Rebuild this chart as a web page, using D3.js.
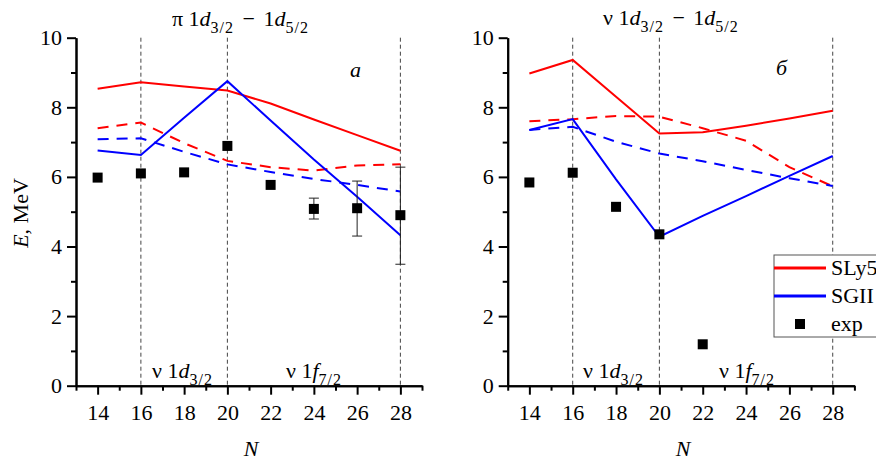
<!DOCTYPE html>
<html lang="en">
<head>
    <meta charset="UTF-8">
    <title>Spin-orbit splitting 1d</title>
    <script src="https://d3js.org/d3.v7.min.js"></script>
    <style>
        body { margin: 0; background: #fff; }
        svg { display: block; }
        text { font-family: "Liberation Serif", "Times New Roman", serif; fill: #000; }
        .axis text { font-size: 22px; font-family: "Liberation Serif", serif; }
        .axis path, .axis line { stroke: #000; }
        .axis path { stroke-width: 2; }
        .axis line { stroke-width: 2; }
        .guide { stroke: #444; stroke-width: 1; stroke-dasharray: 4 3; }
    </style>
</head>
<body>
<script>
    const width = 876, height = 461;

    // data
    const N = [14, 16, 18, 20, 22, 24, 26, 28];
    const xTicks = [14, 16, 18, 20, 22, 24, 26, 28];
    const xMinor = [13, 15, 17, 19, 21, 23, 25, 27, 29];
    const yTicks = [0, 2, 4, 6, 8, 10];
    const yMinor = [1, 3, 5, 7, 9];
    const shellLines = [16, 20, 28];

    // panel a: proton 1d3/2 - 1d5/2
    const piSLy5     = [8.53, 8.72, 8.60, 8.48, 8.11, 7.65, 7.20, 6.75];
    const piSLy5Dash = [7.40, 7.56, 6.97, 6.46, 6.28, 6.18, 6.33, 6.36];
    const piSGII     = [6.76, 6.63, 7.70, 8.75, 7.62, 6.50, 5.43, 4.32];
    const piSGIIDash = [7.08, 7.11, 6.72, 6.36, 6.14, 5.94, 5.77, 5.58];
    const piExpN     = [14, 16, 18, 20, 22, 24, 26, 28];
    const piExp      = [5.98, 6.10, 6.13, 6.89, 5.77, 5.08, 5.10, 4.90];
    const piErrN     = [24, 26, 28];
    const piErrLo    = [4.79, 4.30, 3.49];
    const piErrHi    = [5.39, 5.88, 6.28];

    // panel б: neutron 1d3/2 - 1d5/2
    const nuSLy5     = [8.97, 9.36, 8.30, 7.25, 7.28, 7.47, 7.68, 7.90];
    const nuSLy5Dash = [7.60, 7.66, 7.75, 7.73, 7.40, 7.04, 6.28, 5.73];
    const nuSGII     = [7.35, 7.66, 5.93, 4.28, 4.88, 5.45, 6.03, 6.60];
    const nuSGIIDash = [7.35, 7.44, 7.01, 6.67, 6.45, 6.20, 5.96, 5.74];
    const nuExpN     = [14, 16, 18, 20, 22];
    const nuExp      = [5.84, 6.12, 5.14, 4.35, 1.19];

    const legendNames = ["SLy5", "SGII", "exp"];

    const svg = d3.select("body").append("svg")
        .attr("width", width).attr("height", height);

    const y = d3.scaleLinear().domain([0, 10]).range([385.7, 37.7]);

    function subText(sel, x, yy, parts) {
        // parts: [text, italic, sub, dx]
        let t = sel.append("text").attr("x", x).attr("y", yy).style("font-size", "22px");
        let shifted = false;
        parts.forEach(p => {
            let s = t.append("tspan").text(p[0]);
            let dy = 0;
            if (p[1]) s.style("font-style", "italic");
            if (p[2]) s.style("font-size", "16px").style("letter-spacing", "1px");
            if (p[2] && !shifted) { dy = 7; shifted = true; }
            else if (!p[2] && shifted) { dy = -7; shifted = false; }
            if (dy) s.attr("dy", dy);
            if (p[3]) s.attr("dx", p[3]);
        });
        return t;
    }

    function panel(x0, x1, series, expN, exp, err, title, titleX, titleY, mark, markX, markY, bottomX) {
        const g = svg.append("g");
        const x = d3.scaleLinear().domain([13, 29]).range([x0, x1]);

        // shell-closure guides
        g.selectAll("line.guide").data(shellLines).enter().append("line")
            .attr("class", "guide")
            .attr("x1", d => x(d)).attr("x2", d => x(d))
            .attr("y1", y(10)).attr("y2", y(0));

        // lines
        const line = d3.line().x((d, i) => x(N[i])).y(d => y(d));
        series.forEach(s => {
            g.append("path").datum(s.v)
                .attr("d", line)
                .attr("fill", "none")
                .attr("stroke", s.c)
                .attr("stroke-width", 2)
                .attr("stroke-dasharray", s.dash ? "11 8" : null);
        });

        // error bars
        if (err) {
            err.n.forEach((n, i) => {
                const cx = x(n);
                g.append("line").attr("x1", cx).attr("x2", cx)
                    .attr("y1", y(err.lo[i])).attr("y2", y(err.hi[i]))
                    .attr("stroke", "#222").attr("stroke-width", 1);
                [err.lo[i], err.hi[i]].forEach(v => {
                    g.append("line").attr("x1", cx - 5).attr("x2", cx + 5)
                        .attr("y1", y(v)).attr("y2", y(v))
                        .attr("stroke", "#222").attr("stroke-width", 1);
                });
            });
        }

        // exp points
        g.selectAll("rect.exp").data(exp).enter().append("rect")
            .attr("x", (d, i) => x(expN[i]) - 5)
            .attr("y", d => y(d) - 5)
            .attr("width", 10).attr("height", 10)
            .attr("fill", "#000");

        // axes
        g.append("g").attr("class", "axis")
            .attr("transform", `translate(0,${y(0)})`)
            .call(d3.axisBottom(x).tickValues(xMinor).tickSize(5).tickFormat("").tickSizeOuter(0));
        g.append("g").attr("class", "axis")
            .attr("transform", `translate(0,${y(0)})`)
            .call(d3.axisBottom(x).tickValues(xTicks).tickSize(9).tickPadding(10).tickSizeOuter(0));
        g.append("g").attr("class", "axis")
            .attr("transform", `translate(${x0},0)`)
            .call(d3.axisLeft(y).tickValues(yMinor).tickSize(5).tickFormat("").tickSizeOuter(0));
        g.append("g").attr("class", "axis")
            .attr("transform", `translate(${x0},0)`)
            .call(d3.axisLeft(y).tickValues(yTicks).tickSize(9).tickPadding(5).tickSizeOuter(0));

        // title
        subText(g, titleX, titleY, [[title + " 1", false, false], ["d", true, false], ["3/2", false, true],
            [" \u2212", false, false, 3], [" 1", false, false, 3], ["d", true, false], ["5/2", false, true]]);

        // panel mark
        g.append("text").attr("x", markX).attr("y", markY)
            .style("font-size", "22px").style("font-style", "italic").text(mark);

        // orbital labels
        subText(g, bottomX[0], 378, [["\u03bd 1", false, false], ["d", true, false], ["3/2", false, true]]);
        subText(g, bottomX[1], 378, [["\u03bd 1", false, false], ["f", true, false], ["7/2", false, true]]);

        // N label
        g.append("text").attr("x", (x0 + x1) / 2 + 2).attr("y", 456)
            .attr("text-anchor", "middle")
            .style("font-size", "22px").style("font-style", "italic").text("N");
        return x;
    }

    panel(76, 422,
        [{v: piSLy5, c: "#ff0000"}, {v: piSLy5Dash, c: "#ff0000", dash: true},
         {v: piSGII, c: "#0000ff"}, {v: piSGIIDash, c: "#0000ff", dash: true}],
        piExpN, piExp, {n: piErrN, lo: piErrLo, hi: piErrHi},
        "\u03c0", 172, 26, "a", 350, 77, [152, 286]);

    panel(507.7, 854.4,
        [{v: nuSLy5, c: "#ff0000"}, {v: nuSLy5Dash, c: "#ff0000", dash: true},
         {v: nuSGII, c: "#0000ff"}, {v: nuSGIIDash, c: "#0000ff", dash: true}],
        nuExpN, nuExp, null,
        "\u03bd", 603, 24.5, "\u0431", 776, 75, [583, 719]);

    // y label
    const yl = svg.append("text")
        .attr("transform", "translate(28,213) rotate(-90)")
        .attr("text-anchor", "middle").style("font-size", "22px");
    yl.append("tspan").style("font-style", "italic").text("E");
    yl.append("tspan").text(", MeV");

    // legend
    const lg = svg.append("g").attr("transform", "translate(774,255)");
    lg.append("rect").attr("x", 0).attr("y", 0).attr("width", 110).attr("height", 82)
        .attr("fill", "#fff").attr("stroke", "#555").attr("stroke-width", 1);
    const lgColors = ["#ff0000", "#0000ff", "#000"];
    legendNames.forEach((name, i) => {
        const cy = 13 + i * 28;
        if (i < 2) {
            lg.append("line").attr("x1", 0).attr("x2", 52).attr("y1", cy).attr("y2", cy)
                .attr("stroke", lgColors[i]).attr("stroke-width", 3);
        } else {
            lg.append("rect").attr("x", 21).attr("y", cy - 5).attr("width", 10).attr("height", 10)
                .attr("fill", "#000");
        }
        lg.append("text").attr("x", 57).attr("y", cy + 7).style("font-size", "22px").text(name);
    });
</script>
</body>
</html>
